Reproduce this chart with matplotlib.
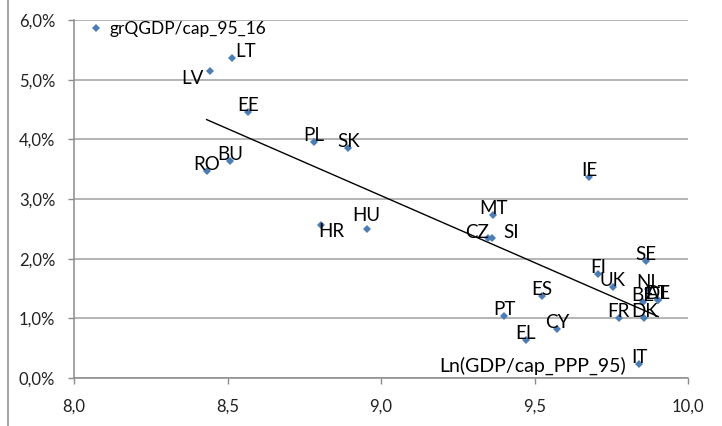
import numpy as np
import matplotlib
matplotlib.use("Agg")
import matplotlib.pyplot as plt
from matplotlib.ticker import FuncFormatter
from matplotlib.lines import Line2D

plt.rcParams['font.family'] = ['Lato', 'DejaVu Sans']

# ---- data ----
countries = ["LT", "LV", "EE", "PL", "SK", "BU", "RO", "IE", "HR", "HU", "MT", "CZ", "SI",
             "SE", "FI", "UK", "ES", "NL", "AT", "DE", "BE", "DK", "FR", "PT", "CY", "EL", "IT"]
ln_gdp = [8.514, 8.443, 8.567, 8.782, 8.894, 8.508, 8.432, 9.679, 8.804, 8.953, 9.366, 9.350, 9.361,
          9.863, 9.708, 9.755, 9.523, 9.871, 9.901, 9.903, 9.852, 9.858, 9.774, 9.402, 9.574, 9.472, 9.841]
growth = [5.37, 5.14, 4.45, 3.96, 3.86, 3.63, 3.47, 3.37, 2.57, 2.49, 2.73, 2.35, 2.35,
          1.96, 1.74, 1.52, 1.37, 1.49, 1.31, 1.30, 1.27, 1.01, 1.01, 1.04, 0.82, 0.63, 0.23]
series_name = "grQGDP/cap_95_16"
x_title = "Ln(GDP/cap_PPP_95)"
x_ticks = [8.0, 8.5, 9.0, 9.5, 10.0]
y_ticks = [0, 1, 2, 3, 4, 5, 6]

# label offsets in pixels (dx, dy), default centred just above marker
label_offsets = {"LT": (14, 6), "LV": (-18, -7), "HR": (10.5, -7), "HU": (0, 14),
                 "CZ": (-11, 5), "SI": (19.5, 5)}

W, H = 722, 426
fig = plt.figure(figsize=(W / 100, H / 100), dpi=100)
ax = fig.add_axes([74 / W, (H - 378) / H, (688 - 74) / W, (378 - 20) / H])

grid_c = "#a0a0a0"
ax.set_xlim(x_ticks[0], x_ticks[-1])
ax.set_ylim(y_ticks[0], y_ticks[-1])
ax.set_xticks(x_ticks)
ax.set_yticks(y_ticks)
ax.yaxis.grid(True, color=grid_c, lw=1.1)
ax.set_axisbelow(True)
for s in ["top", "right"]:
    ax.spines[s].set_visible(False)
for s in ["left", "bottom"]:
    ax.spines[s].set_color("#8c8c8c")
    ax.spines[s].set_linewidth(1.1)
ax.tick_params(axis="both", direction="out", length=4.5, width=1.0, color="#8c8c8c",
               labelsize=12, labelcolor="#222222")
ax.tick_params(axis="y", pad=9)
ax.tick_params(axis="x", pad=10.5)
ax.xaxis.set_major_formatter(FuncFormatter(lambda v, p: f"{v:.1f}".replace(".", ",")))
ax.yaxis.set_major_formatter(FuncFormatter(lambda v, p: f"{v:.1f}%".replace(".", ",")))

# trend line (linear fit over the data)
xs = np.array(ln_gdp)
ys = np.array(growth)
k, b = np.polyfit(xs, ys, 1)
xl = np.array([xs.min(), xs.max()])
ax.plot(xl, k * xl + b, color="black", lw=1.0, zorder=3)

ax.plot(xs, ys, linestyle="none", marker="D", ms=4.0, color="#4a7ebb",
        markeredgewidth=0, label=series_name, zorder=4)

for c, x, y in zip(countries, ln_gdp, growth):
    dx, dy = label_offsets.get(c, (0, 6.5))
    ax.annotate(c, (x, y), xytext=(dx * 0.72, dy * 0.72), textcoords="offset points",
                ha="center", va="center", fontsize=13.5, color="black", zorder=5)

ax.set_xlabel(x_title, fontsize=14, color="black")
ax.xaxis.set_label_coords((533 - 74) / 614, (378 - 366) / 358)
ax.xaxis.label.set_va("center")
ax.xaxis.label.set_ha("center")

leg = ax.legend(loc="center left", bbox_to_anchor=((88.7 - 74) / 614, (378 - 29) / 358),
                frameon=False, fontsize=12.5, handlelength=0.8, handletextpad=0.4,
                borderpad=0, borderaxespad=0, markerscale=1.0)

fig.add_artist(Line2D([8 / W, 8 / W], [0, 1], color="#8c8c8c", lw=1.1))

fig.savefig("out.png", dpi=100)
